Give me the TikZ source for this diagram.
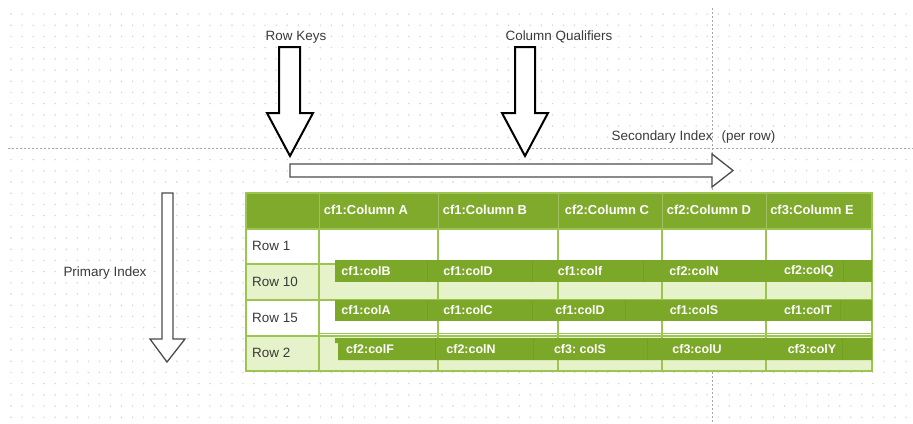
\documentclass[tikz,border=0pt]{standalone}
\usepackage{fontspec}
\setmainfont{Liberation Sans}
\definecolor{hdr}{HTML}{7FAA2C}
\definecolor{bar}{HTML}{7BA828}
\definecolor{barline}{HTML}{72A022}
\definecolor{pale}{HTML}{E6F2C9}
\definecolor{rule}{HTML}{9CC450}
\definecolor{ink}{HTML}{3A3A3A}
\definecolor{dot}{HTML}{D2D2D2}
\definecolor{guide}{HTML}{A6A6A6}

\tikzset{
  label/.style={text=ink, inner sep=0pt, font=\fontsize{13.5}{16}\selectfont},
  rowlabel/.style={text=ink, inner sep=0pt, anchor=west, font=\fontsize{13.5}{16}\selectfont},
  headtxt/.style={text=white, inner sep=0pt, font=\bfseries\fontsize{13}{15}\selectfont},
  bartxt/.style={text=white, inner sep=0pt, font=\bfseries\fontsize{12.5}{15}\selectfont},
  bigarrow/.style={fill=white, draw=black, line width=2bp, line join=miter},
  thinarrow/.style={fill=white, draw=black!70, line width=1.3bp, line join=miter},
  guideline/.style={draw=guide, line width=0.8bp, dash pattern=on 2bp off 2bp},
  cellrule/.style={draw=rule, line width=1.4bp},
  bardiv/.style={draw=barline, line width=0.8bp},
}

\begin{document}
\begin{tikzpicture}[x=1bp, y=-1bp]
\useasboundingbox (0,0) rectangle (913,423);
\fill[white] (0,0) rectangle (913,423);

% dotted drawing grid
\foreach \i in {0,...,81}
  \foreach \j in {0,...,36}
    \fill[dot] (11+\i*11.05, 14+\j*11.2) circle (0.8bp);

% guide lines
\draw[guideline] (8,148) -- (913,148);
\draw[guideline] (712,8) -- (712,423);

% ---- table ----
% row backgrounds
\fill[hdr]   (246,193) rectangle (872,229);
\fill[white] (246,229) rectangle (872,264);
\fill[pale]  (246,264) rectangle (872,300);
\fill[white] (246,300) rectangle (872,336);
\fill[pale]  (246,336) rectangle (872,371);

% header dividers
\foreach \x in {319,438,558,662,766}
  \draw[draw=hdr!75!white, line width=0.8bp] (\x,193) -- (\x,229);

% body rules
\foreach \y in {229,264,300,336}
  \draw[cellrule] (246,\y) -- (872,\y);
\draw[draw=rule, line width=0.8bp] (319,333) -- (872,333);
\foreach \x in {319,438,558,662,766}
  \draw[cellrule] (\x,229) -- (\x,371);
\draw[cellrule] (246,193) rectangle (872,371);

% value bars across the rows
\fill[bar] (335,260) rectangle (872,282);
\fill[bar] (335,300) rectangle (872,321);
\fill[bar] (335,338) -- (872,338) -- (872,360) -- (338,360) -- (338,343) -- (335,343) -- cycle;
\foreach \x in {427,532,643,843} \draw[bardiv] (\x,260) -- (\x,282);
\foreach \x in {427,532,625,840} \draw[bardiv] (\x,300) -- (\x,321);
\foreach \x in {435,533,647,842} \draw[bardiv] (\x,338) -- (\x,360);

% header texts
\node[headtxt] (hA) at (366,210) {cf1:Column A};
\node[headtxt] (hB) at (485,210) {cf1:Column B};
\node[headtxt] (hC) at (607,210) {cf2:Column C};
\node[headtxt] (hD) at (709,210) {cf2:Column D};
\node[headtxt] (hE) at (812,210) {cf3:Column E};

% row keys
\node[rowlabel] (r1)  at (252,246) {Row 1};
\node[rowlabel] (r10) at (252,282) {Row 10};
\node[rowlabel] (r15) at (252,318) {Row 15};
\node[rowlabel] (r2)  at (252,353) {Row 2};

% qualifiers per row
\node[bartxt] (a1) at (366,271) {cf1:colB};
\node[bartxt] (a2) at (468,271) {cf1:colD};
\node[bartxt] (a3) at (580,271) {cf1:colf};
\node[bartxt] (a4) at (694,271) {cf2:colN};
\node[bartxt] (a5) at (809,271) {cf2:colQ};

\node[bartxt] (b1) at (366,310.5) {cf1:colA};
\node[bartxt] (b2) at (468,310.5) {cf1:colC};
\node[bartxt] (b3) at (580,310.5) {cf1:colD};
\node[bartxt] (b4) at (694,310.5) {cf1:colS};
\node[bartxt] (b5) at (808,310.5) {cf1:colT};

\node[bartxt] (c1) at (370,349) {cf2:colF};
\node[bartxt] (c2) at (471,349) {cf2:colN};
\node[bartxt] (c3) at (580,349) {cf3:\ colS};
\node[bartxt] (c4) at (697,349) {cf3:colU};
\node[bartxt] (c5) at (812,349) {cf3:colY};

% ---- block arrows ----
\draw[bigarrow] (279,47) -- (300,47) -- (300,113) -- (313,113) -- (290,156)
  -- (267,113) -- (279,113) -- cycle;
\draw[bigarrow] (515,47) -- (535,47) -- (535,113) -- (548,113) -- (525,156)
  -- (502,113) -- (515,113) -- cycle;
\draw[thinarrow] (290,164) -- (712,164) -- (712,154) -- (733,170.5) -- (712,187)
  -- (712,177) -- (290,177) -- cycle;
\draw[thinarrow] (162,193) -- (173,193) -- (173,339) -- (185,339) -- (167,362)
  -- (150,339) -- (162,339) -- cycle;

% arrow captions
\node[label] (rk) at (296,37) {Row Keys};
\node[label] (cq) at (559,37) {Column Qualifiers};
\node[label] (si) at (693.5,137) {Secondary Index\hspace{9bp}(per row)};
\node[label] (pi) at (105,273) {Primary Index};
\end{tikzpicture}
\end{document}
